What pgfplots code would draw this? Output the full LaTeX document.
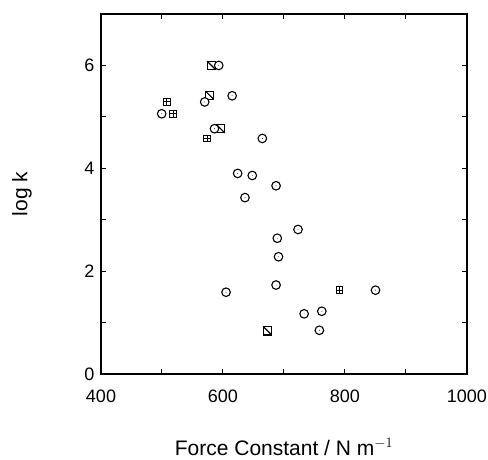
\documentclass[border=0pt]{standalone}
\usepackage{fontspec}
\setmainfont{Liberation Sans}
\usepackage{pgfplots}
\pgfplotsset{compat=1.18}

\pgfdeclareplotmark{dotcircle}{%
  \pgfpathcircle{\pgfpointorigin}{\pgfplotmarksize}%
  \pgfusepathqfillstroke
  \begin{pgfscope}%
  \pgfsetfillcolor{black}%
  \pgfpathcircle{\pgfpointorigin}{0.45pt}%
  \pgfusepathqfill
  \end{pgfscope}}
\pgfdeclareplotmark{diagsquare}{%
  \pgfpathrectangle{\pgfpoint{-\pgfplotmarksize}{-\pgfplotmarksize}}{\pgfpoint{2\pgfplotmarksize}{2\pgfplotmarksize}}%
  \pgfusepathqfillstroke
  \pgfpathmoveto{\pgfpoint{-\pgfplotmarksize}{\pgfplotmarksize}}%
  \pgfpathlineto{\pgfpoint{\pgfplotmarksize}{-\pgfplotmarksize}}%
  \pgfusepathqstroke}
\pgfdeclareplotmark{boxplus}{%
  \pgfpathrectangle{\pgfpoint{-\pgfplotmarksize}{-\pgfplotmarksize}}{\pgfpoint{2\pgfplotmarksize}{2\pgfplotmarksize}}%
  \pgfusepathqfillstroke
  \pgfpathmoveto{\pgfpoint{-\pgfplotmarksize}{0pt}}%
  \pgfpathlineto{\pgfpoint{\pgfplotmarksize}{0pt}}%
  \pgfpathmoveto{\pgfpoint{0pt}{-\pgfplotmarksize}}%
  \pgfpathlineto{\pgfpoint{0pt}{\pgfplotmarksize}}%
  \pgfusepathqstroke}

\begin{document}
\begin{tikzpicture}
\path[use as bounding box] (0,0) rectangle (488bp,460bp);
\begin{axis}[
  at={(101bp,86bp)}, anchor=south west,
  scale only axis, width=366bp, height=360bp,
  xmin=400, xmax=1000, ymin=0, ymax=7,
  xtick={400,600,800,1000}, minor xtick={500,700,900},
  ytick={0,2,4,6}, minor ytick={1,3,5},
  tick align=inside, major tick length=5bp, minor tick length=5bp,
  every tick/.style={line width=1bp, black},
  every minor tick/.style={line width=1bp, black},
  axis line style={line width=1.8bp},
  tick label style={font=\fontsize{18bp}{21bp}\selectfont},
  label style={font=\fontsize{21bp}{25bp}\selectfont},
  /pgf/number format/assume math mode=true,
  /pgf/number format/1000 sep={},
  xticklabel style={yshift=-12bp},
  yticklabel style={xshift=-3bp},
  xlabel={Force Constant / N m$^{-1}$},
  ylabel={log k},
  xlabel style={at={(axis description cs:0.5,-0.225)}, anchor=base},
  ylabel style={at={(axis description cs:-0.216,0.5)}, anchor=center},
  clip=false,
]
\addplot[only marks, mark=diagsquare, mark size=4.2bp, line width=1.1bp, fill=white] coordinates {
 (581,6.0) (578,5.42) (596,4.77) (673,0.84)
};
\addplot[only marks, mark=dotcircle, mark size=4.3bp, line width=1.1bp, fill=white] coordinates {
 (499.5,5.06) (570,5.29) (593,6.0) (615,5.41) (586,4.77) (664.5,4.58)
 (624,3.90) (648,3.86) (636,3.43) (687,3.66) (723,2.81) (689,2.64)
 (691,2.28) (687,1.73) (605,1.59) (850,1.63) (733,1.17) (762,1.22)
 (758,0.85)
};
\addplot[only marks, mark=boxplus, mark size=3.4bp, line width=0.9bp, fill=white] coordinates {
 (508,5.29) (518.6,5.06) (574,4.58) (791,1.63)
};
\end{axis}
\end{tikzpicture}
\end{document}
